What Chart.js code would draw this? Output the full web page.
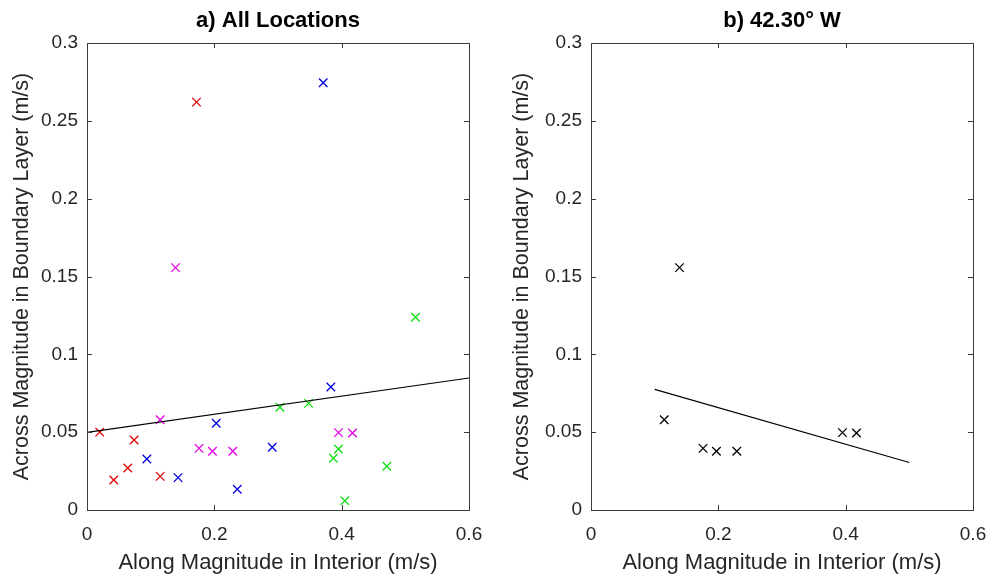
<!DOCTYPE html>
<html>
<head>
<meta charset="utf-8">
<script src="https://cdn.jsdelivr.net/npm/chart.js@4/dist/chart.umd.min.js"></script>
<style>
  body { margin: 0; background: #fff; }
  #wrap { position: relative; width: 993px; height: 577px; }
  canvas { position: absolute; top: 0; }
</style>
</head>
<body>
<div id="wrap">
  <canvas id="chart-a" width="500" height="577" style="left:0px"></canvas>
  <canvas id="chart-b" width="493" height="577" style="left:500px"></canvas>
</div>
<script>
// along magnitude (x) / across magnitude (y), one group per location
var redX = [0.172, 0.020, 0.074, 0.064, 0.115, 0.042];
var redY = [0.262, 0.050, 0.045, 0.027, 0.0216, 0.0193];

var blueX = [0.371, 0.383, 0.203, 0.291, 0.094, 0.143, 0.236];
var blueY = [0.2745, 0.079, 0.0557, 0.0403, 0.0328, 0.0208, 0.0133];

var magentaX = [0.139, 0.115, 0.395, 0.417, 0.176, 0.197, 0.229];
var magentaY = [0.1557, 0.058, 0.0497, 0.0495, 0.0396, 0.0377, 0.0377];

var greenX = [0.516, 0.303, 0.348, 0.395, 0.387, 0.471, 0.405];
var greenY = [0.1238, 0.066, 0.0685, 0.0392, 0.0332, 0.0281, 0.006];

// least squares fit lines (end points)
var fitAllX = [0, 0.6];
var fitAllY = [0.0499, 0.0848];
var fitWestX = [0.1, 0.5];
var fitWestY = [0.0775, 0.0305];

var xTicks = [0, 0.2, 0.4, 0.6];
var xTickLabels = ['0', '0.2', '0.4', '0.6'];
var yTicks = [0, 0.05, 0.1, 0.15, 0.2, 0.25, 0.3];
var yTickLabels = ['0', '0.05', '0.1', '0.15', '0.2', '0.25', '0.3'];

var FONT = '"Liberation Sans", Arial, Helvetica, sans-serif';
var TXT = '#262626';

function pts(xs, ys) {
	return xs.map(function (x, i) { return {x: x, y: ys[i]}; });
}

function crossSet(xs, ys, color) {
	return {
		type: 'scatter',
		data: pts(xs, ys),
		pointStyle: 'crossRot',
		pointRadius: 6,
		pointBorderWidth: 1.3,
		borderColor: color,
		backgroundColor: color,
		showLine: false
	};
}

function lineSet(xs, ys) {
	return {
		type: 'line',
		data: pts(xs, ys),
		borderColor: '#000',
		borderWidth: 1.2,
		pointRadius: 0,
		fill: false
	};
}

// box with inward tick marks on all four sides, like the original figure
var boxTicks = {
	id: 'boxTicks',
	afterDatasetsDraw: function (chart) {
		var ctx = chart.ctx, a = chart.chartArea;
		var sx = chart.scales.x, sy = chart.scales.y;
		var len = 5;
		ctx.save();
		ctx.strokeStyle = '#3a3a3a';
		ctx.lineWidth = 1;
		ctx.strokeRect(Math.round(a.left) + 0.5, Math.round(a.top) + 0.5,
			Math.round(a.right - a.left), Math.round(a.bottom - a.top));
		ctx.beginPath();
		xTicks.forEach(function (v) {
			var px = Math.round(sx.getPixelForValue(v)) + 0.5;
			ctx.moveTo(px, a.bottom); ctx.lineTo(px, a.bottom - len);
			ctx.moveTo(px, a.top); ctx.lineTo(px, a.top + len);
		});
		yTicks.forEach(function (v) {
			var py = Math.round(sy.getPixelForValue(v)) + 0.5;
			ctx.moveTo(a.left, py); ctx.lineTo(a.left + len, py);
			ctx.moveTo(a.right, py); ctx.lineTo(a.right - len, py);
		});
		ctx.stroke();
		ctx.restore();
	}
};

function makeChart(id, title, datasets, yWidth, rightPad) {
	return new Chart(id, {
		data: {datasets: datasets},
		plugins: [boxTicks],
		options: {
			responsive: false,
			animation: false,
			layout: {padding: {left: 0, right: rightPad, top: 0, bottom: 0}},
			plugins: {
				legend: {display: false},
				tooltip: {enabled: false},
				title: {
					display: true,
					fullSize: false,
					text: title,
					color: '#000',
					font: {family: FONT, size: 22, weight: 'bold'},
					padding: {top: 8, bottom: 8.6}
				}
			},
			scales: {
				x: {
					type: 'linear',
					min: 0,
					max: 0.6,
					grid: {display: false},
					border: {display: false},
					afterBuildTicks: function (s) {
						s.ticks = xTicks.map(function (v) { return {value: v}; });
					},
					afterFit: function (s) { s.height = 67; },
					ticks: {
						color: TXT,
						padding: 5,
						maxRotation: 0,
						font: {family: FONT, size: 19},
						callback: function (v, i) { return xTickLabels[i]; }
					},
					title: {
						display: true,
						text: 'Along Magnitude in Interior (m/s)',
						color: TXT,
						font: {family: FONT, size: 22},
						padding: {top: 0, bottom: 1}
					}
				},
				y: {
					type: 'linear',
					min: 0,
					max: 0.3,
					grid: {display: false},
					border: {display: false},
					afterBuildTicks: function (s) {
						s.ticks = yTicks.map(function (v) { return {value: v}; });
					},
					afterFit: function (s) { s.width = yWidth; },
					ticks: {
						color: TXT,
						padding: 1,
						font: {family: FONT, size: 19},
						callback: function (v, i) { return yTickLabels[i]; }
					},
					title: {
						display: true,
						text: 'Across Magnitude in Boundary Layer (m/s)',
						color: TXT,
						font: {family: FONT, size: 21.5},
						padding: {top: 9, bottom: 0}
					}
				}
			}
		}
	});
}

makeChart('chart-a', 'a) All Locations', [
	lineSet(fitAllX, fitAllY),
	crossSet(redX, redY, '#e00000'),
	crossSet(blueX, blueY, '#0000e0'),
	crossSet(magentaX, magentaY, '#e000e0'),
	crossSet(greenX, greenY, '#11dd11')
], 87, 31);

makeChart('chart-b', 'b) 42.30\u00B0 W', [
	lineSet(fitWestX, fitWestY),
	crossSet(magentaX, magentaY, '#000000')
], 91, 20);
</script>
</body>
</html>
